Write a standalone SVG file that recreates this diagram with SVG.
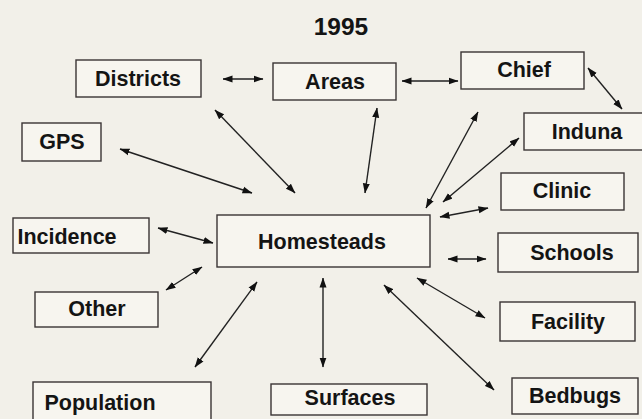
<svg xmlns="http://www.w3.org/2000/svg" width="642" height="419" viewBox="0 0 642 419">
<style>
.box{fill:#f7f5ef;stroke:#3a3434;stroke-width:1.4}
.lbl{font-family:"Liberation Sans",Arial,sans-serif;font-weight:bold;font-size:21.5px;fill:#141414;text-anchor:middle}
.ar{stroke:#222;stroke-width:1.4;fill:none;marker-start:url(#ah);marker-end:url(#ah)}
</style>
<defs>
<marker id="ah" viewBox="0 0 10 8" refX="9.5" refY="4" markerWidth="10" markerHeight="8" markerUnits="userSpaceOnUse" orient="auto-start-reverse">
<path d="M0,0.5 L10,4 L0,7.5 Z" fill="#111"/>
</marker>
</defs>
<rect width="642" height="419" fill="#f2f0e9"/>
<text x="341" y="35" class="lbl" style="font-size:24.5px">1995</text>
<g id="connectors">
<line class="ar" x1="223" y1="79" x2="263" y2="79"/>
<line class="ar" x1="402" y1="81" x2="458" y2="81"/>
<line class="ar" x1="588" y1="68" x2="622" y2="109"/>
<line class="ar" x1="215" y1="110" x2="295" y2="193"/>
<line class="ar" x1="120" y1="149" x2="252" y2="193"/>
<line class="ar" x1="377" y1="108" x2="365" y2="193"/>
<line class="ar" x1="478" y1="112" x2="426" y2="208"/>
<line class="ar" x1="519" y1="138" x2="443" y2="202"/>
<line class="ar" x1="440" y1="217" x2="488" y2="208"/>
<line class="ar" x1="448" y1="259" x2="486" y2="259"/>
<line class="ar" x1="417" y1="278" x2="485" y2="318"/>
<line class="ar" x1="384" y1="285" x2="494" y2="390"/>
<line class="ar" x1="323" y1="278" x2="323" y2="367"/>
<line class="ar" x1="257" y1="282" x2="195" y2="367"/>
<line class="ar" x1="202" y1="267" x2="166" y2="290"/>
<line class="ar" x1="158" y1="228" x2="213" y2="243"/>
</g>
<g id="districts"><rect class="box" x="76" y="60" width="125" height="37"/><text class="lbl" x="138" y="86">Districts</text></g>
<g id="areas"><rect class="box" x="273" y="63" width="123" height="37"/><text class="lbl" x="335" y="89">Areas</text></g>
<g id="chief"><rect class="box" x="461" y="52" width="123" height="37"/><text class="lbl" x="524" y="77">Chief</text></g>
<g id="induna"><rect class="box" x="524" y="113" width="122" height="37"/><text class="lbl" x="587" y="139">Induna</text></g>
<g id="gps"><rect class="box" x="22" y="123" width="79" height="38"/><text class="lbl" x="62" y="149">GPS</text></g>
<g id="clinic"><rect class="box" x="501" y="173" width="123" height="37"/><text class="lbl" x="562" y="198">Clinic</text></g>
<g id="homesteads"><rect class="box" x="217" y="215" width="213" height="52"/><text class="lbl" x="322" y="249">Homesteads</text></g>
<g id="incidence"><rect class="box" x="13" y="218" width="136" height="35"/><text class="lbl" x="67" y="244">Incidence</text></g>
<g id="schools"><rect class="box" x="498" y="233" width="140" height="39"/><text class="lbl" x="572" y="260">Schools</text></g>
<g id="other"><rect class="box" x="35" y="292" width="123" height="35"/><text class="lbl" x="97" y="316">Other</text></g>
<g id="facility"><rect class="box" x="500" y="302" width="135" height="39"/><text class="lbl" x="568" y="329">Facility</text></g>
<g id="population"><rect class="box" x="33" y="382" width="178" height="42"/><text class="lbl" x="100" y="410">Population</text></g>
<g id="surfaces"><rect class="box" x="271" y="384" width="156" height="31"/><text class="lbl" x="350" y="405">Surfaces</text></g>
<g id="bedbugs"><rect class="box" x="512" y="378" width="126" height="36"/><text class="lbl" x="575" y="403">Bedbugs</text></g>
</svg>
